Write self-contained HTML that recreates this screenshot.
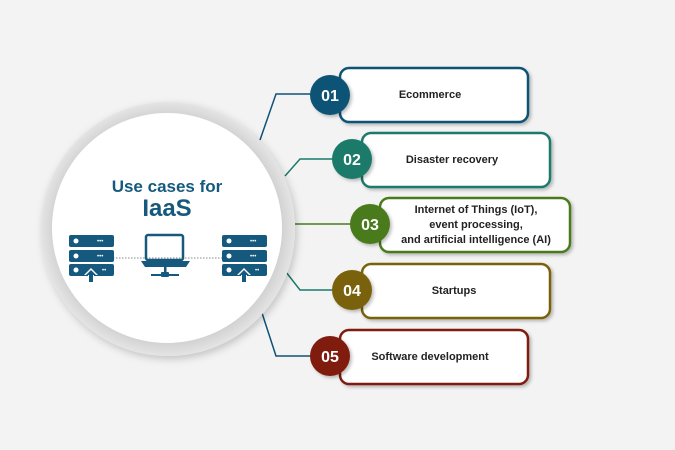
<!DOCTYPE html>
<html><head><style>
html,body{margin:0;padding:0;background:#f3f3f3;}
svg{display:block;font-family:"Liberation Sans",Arial,sans-serif;}
</style></head><body>
<svg width="675" height="450" viewBox="0 0 675 450" xmlns="http://www.w3.org/2000/svg">
<defs>
<filter id="sh" x="-20%" y="-20%" width="140%" height="140%"><feDropShadow dx="2" dy="2" stdDeviation="1.5" flood-color="#000" flood-opacity="0.25"/></filter>
<filter id="cs" x="-20%" y="-20%" width="140%" height="140%"><feDropShadow dx="2" dy="3" stdDeviation="4" flood-color="#000" flood-opacity="0.2"/></filter>
<radialGradient id="rg" cx="0.5" cy="0.5" r="0.5"><stop offset="0.88" stop-color="#cfcfcf"/><stop offset="1" stop-color="#e4e4e4"/></radialGradient>
</defs>
<rect width="675" height="450" fill="#f3f3f3"/>
<g fill="none" stroke-width="1.5">
<polyline points="260,140 276,94 312,94" stroke="#0f5276"/>
<polyline points="285,176 300,159 334,159" stroke="#1a7a6a"/>
<polyline points="295,224 352,224" stroke="#4a7a1e"/>
<polyline points="286,272 300,290 334,290" stroke="#1a7a6a"/>
<polyline points="262,313 276,356 312,356" stroke="#0f5276"/>
</g>
<circle cx="168" cy="229" r="127" fill="url(#rg)" filter="url(#cs)"/>
<circle cx="167" cy="228" r="115" fill="#fff"/>
<text x="167" y="192" text-anchor="middle" font-size="17" font-weight="bold" fill="#155a7e">Use cases for</text>
<text x="167" y="216" text-anchor="middle" font-size="24" font-weight="bold" fill="#155a7e">IaaS</text>
<line x1="113" y1="258" x2="225" y2="258" stroke="#888" stroke-width="1" stroke-dasharray="1.5,1.5"/>
<g fill="#155a7e">
<rect x="69" y="235" width="45" height="12" rx="2"/><rect x="69" y="250" width="45" height="12" rx="2"/><rect x="69" y="264" width="45" height="12" rx="2"/>
<rect x="222" y="235" width="45" height="12" rx="2"/><rect x="222" y="250" width="45" height="12" rx="2"/><rect x="222" y="264" width="45" height="12" rx="2"/>
<rect x="146" y="235" width="37" height="25" fill="none" stroke="#155a7e" stroke-width="2.5" rx="2"/>
<path d="M141 261 H190 L186 267 H145 Z"/>
<rect x="164" y="267" width="2.5" height="7"/>
<rect x="151" y="274" width="28" height="2"/>
<rect x="161" y="272" width="8" height="5" rx="1"/>
</g>
<g fill="#fff">
<circle cx="76" cy="241" r="2.5"/><circle cx="76" cy="256" r="2.5"/><circle cx="76" cy="270" r="2.5"/>
<circle cx="229" cy="241" r="2.5"/><circle cx="229" cy="256" r="2.5"/><circle cx="229" cy="270" r="2.5"/>
<path d="M91 268 L98 275 H94 V281 H88 V275 H84 Z"/>
<path d="M244 268 L251 275 H247 V281 H241 V275 H237 Z"/>
</g>
<g fill="#155a7e"><rect x="89" y="274" width="4" height="8"/><rect x="242" y="274" width="4" height="8"/>
<path d="M91 270 L96 275 H86 Z"/><path d="M244 270 L249 275 H239 Z"/></g>
<g fill="#fff" font-size="6">
<text x="97" y="243">•••</text><text x="97" y="258">•••</text><text x="102" y="272">••</text>
<text x="250" y="243">•••</text><text x="250" y="258">•••</text><text x="255" y="272">••</text>
</g>
<g stroke-width="2.5" fill="#fff" filter="url(#sh)">
<rect x="340" y="68" width="188" height="54" rx="9" stroke="#0f5276"/>
<rect x="362" y="133" width="188" height="54" rx="9" stroke="#1a7a6a"/>
<rect x="380" y="198" width="190" height="54" rx="9" stroke="#4a7a1e"/>
<rect x="362" y="264" width="188" height="54" rx="9" stroke="#7a6208"/>
<rect x="340" y="330" width="188" height="54" rx="9" stroke="#7f1d10"/>
</g>
<g filter="url(#sh)">
<circle cx="330" cy="95" r="20" fill="#0f5276"/>
<circle cx="352" cy="159" r="20" fill="#1a7a6a"/>
<circle cx="370" cy="224" r="20" fill="#4a7a1e"/>
<circle cx="352" cy="290" r="20" fill="#7a6208"/>
<circle cx="330" cy="356" r="20" fill="#7f1d10"/>
</g>
<g fill="#fff" font-size="16" font-weight="bold" text-anchor="middle">
<text x="330" y="101">01</text><text x="352" y="165">02</text><text x="370" y="230">03</text><text x="352" y="296">04</text><text x="330" y="362">05</text>
</g>
<g fill="#222" font-size="11" font-weight="bold" text-anchor="middle">
<text x="430" y="98">Ecommerce</text>
<text x="452" y="163">Disaster recovery</text>
<text x="476" y="213">Internet of Things (IoT),</text>
<text x="476" y="228">event processing,</text>
<text x="476" y="243">and artificial intelligence (AI)</text>
<text x="454" y="294">Startups</text>
<text x="430" y="360">Software development</text>
</g>
</svg>
</body></html>
